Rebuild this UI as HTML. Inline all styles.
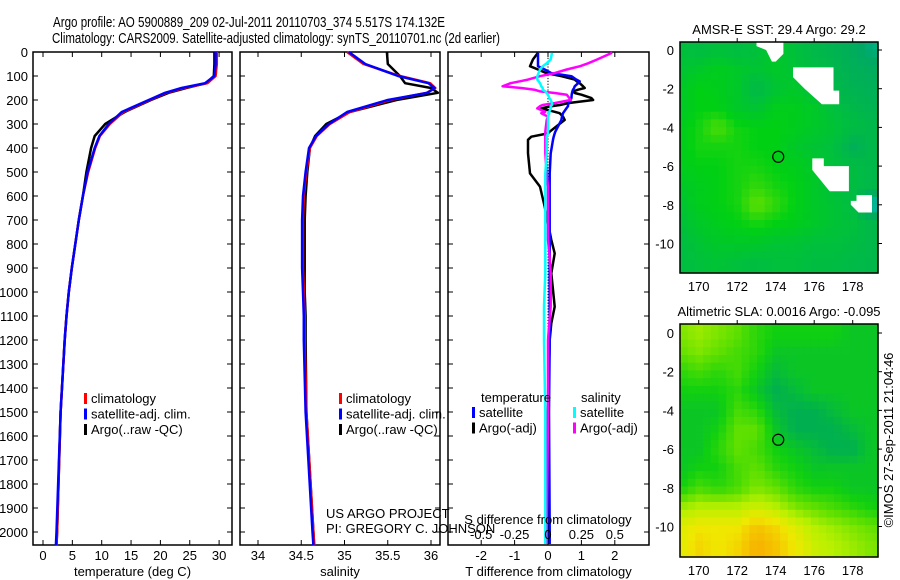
<!DOCTYPE html>
<html><head><meta charset="utf-8">
<style>
html,body{margin:0;padding:0;background:#fff;}
svg{display:block;font-family:"Liberation Sans",sans-serif;}
text{fill:#000;}
</style></head>
<body>
<svg id="chart" width="900" height="580" viewBox="0 0 900 580">
<text x="53" y="27" font-size="15" textLength="392" lengthAdjust="spacingAndGlyphs">Argo profile: AO 5900889_209 02-Jul-2011 20110703_374 5.517S 174.132E</text>
<text x="52" y="43" font-size="15" textLength="448" lengthAdjust="spacingAndGlyphs">Climatology: CARS2009. Satellite-adjusted climatology: synTS_20110701.nc (2d earlier)</text>
<g id="g1"></g>
<g id="g2"></g>
<g id="g3"></g>
<g id="m1"></g>
<g id="m2"></g>
<text transform="translate(893,440) rotate(-90)" font-size="13" text-anchor="middle">©IMOS 27-Sep-2011 21:04:46</text>
</svg>
<script>
// ---- profile data ----
const depths = [0,50,100,130,150,170,200,250,300,350,400,500,600,700,800,900,1000,1100,1200,1500,2000,2055];
const tempClim = [29.6,29.6,29.4,28.0,24.0,21.0,18.2,13.7,11.4,9.7,8.9,7.7,6.8,6.1,5.5,4.9,4.4,4.0,3.7,3.0,2.4,2.3];
const tempSat  = [29.4,29.4,29.2,27.6,23.6,20.8,18.0,13.4,11.2,9.6,8.8,7.6,6.8,6.1,5.5,4.9,4.4,4.0,3.7,3.0,2.3,2.2];
const tempArgo = [29.2,29.2,29.1,27.8,24.4,21.4,18.4,13.9,10.6,8.8,8.2,7.4,6.8,6.1,5.5,4.9,4.4,4.0,3.7,3.0,2.4,2.3];
const salClim = [35.03,35.22,35.64,35.99,36.05,35.95,35.53,35.06,34.83,34.68,34.60,34.56,34.53,34.52,34.52,34.52,34.53,34.54,34.54,34.56,34.64,34.65];
const salSat  = [35.05,35.24,35.62,35.97,36.04,35.96,35.50,35.03,34.82,34.67,34.59,34.55,34.52,34.51,34.51,34.51,34.52,34.53,34.53,34.55,34.63,34.64];
const salArgo = [35.49,35.50,35.64,35.70,36.00,36.08,35.60,35.06,34.79,34.66,34.60,34.57,34.55,34.54,34.54,34.54,34.54,34.55,34.55,34.56,34.64,34.65];
const diffDepths = [3,31,47,59,73,88,101,115,122,130,143,150,157,164,171,178,192,200,213,221,226,235,249,255,269,283,332,339,353,366,408,422,506,561,644,783,839,922,1061,1130,1200,1500,2000,2050];
const dTsat  = [-0.3,-0.3,-0.3,-0.3,-0.1,0.1,0.7,0.85,0.95,0.9,0.8,0.78,0.75,0.73,0.72,0.71,0.7,0.68,0.62,0.6,0.6,0.55,0.48,0.45,0.42,0.4,0.22,0.2,0.17,0.15,0.1,0.08,0.05,0.05,0.05,0.05,0.05,0.05,0.05,0.05,0.05,0.03,0.05,0.05];
const dTargo = [-0.3,-0.45,-0.5,-0.54,-0.3,-0.05,0.4,0.8,0.86,0.95,1.05,1.1,0.9,0.75,0.8,1.0,1.3,1.35,0.6,0.36,0.1,-0.2,0.2,0.35,0.45,0.5,0.05,0.0,-0.5,-0.6,-0.6,-0.6,-0.54,-0.24,-0.1,0.1,0.2,0.1,0.2,0.1,0.05,0.0,0.0,0.0];
const dSsat  = [0.03,0.02,-0.01,-0.04,-0.06,-0.07,-0.08,-0.08,-0.07,-0.06,-0.05,-0.04,-0.04,-0.02,-0.01,0.0,0.01,0.02,0.03,0.03,0.02,0.02,0.01,0.01,0.0,0.0,0.0,0.0,-0.01,-0.01,-0.01,-0.01,-0.02,-0.02,-0.02,-0.02,-0.02,-0.02,-0.03,-0.03,-0.03,-0.02,-0.02,-0.02];
const dSargo = [0.48,0.37,0.3,0.24,0.14,0.05,-0.06,-0.15,-0.21,-0.28,-0.34,-0.2,-0.1,-0.06,0.05,0.14,0.16,0.17,0.05,-0.04,-0.06,-0.08,-0.02,-0.05,0.0,-0.01,-0.02,-0.02,-0.02,-0.02,-0.02,-0.02,-0.01,0.0,0.0,0.0,0.01,0.02,0.02,0.01,0.0,0.0,-0.01,-0.01];
const depthTicks = [0,100,200,300,400,500,600,700,800,900,1000,1100,1200,1300,1400,1500,1600,1700,1800,1900,2000];
const tempTicks = [0,5,10,15,20,25,30];
const salTicks = [34,34.5,35,35.5,36];
const tDiffTicks = [-2,-1,0,1,2];
const sDiffTicks = [-0.5,-0.25,0,0.25,0.5];
// ---- map data (1-degree grid, lon 169..179, lat 0..-11) ----
const mapLons = [169,170,171,172,173,174,175,176,177,178,179];
const mapLats = [0,-1,-2,-3,-4,-5,-6,-7,-8,-9,-10,-11];
const sstGrid = [
[0.40,0.38,0.40,0.38,0.40,0.45,0.40,0.35,0.32,0.28,0.22],
[0.42,0.45,0.48,0.45,0.42,0.45,0.42,0.38,0.35,0.30,0.28],
[0.45,0.50,0.48,0.45,0.35,0.42,0.45,0.40,0.35,0.32,0.30],
[0.45,0.50,0.50,0.45,0.42,0.48,0.48,0.45,0.40,0.35,0.32],
[0.48,0.52,0.58,0.52,0.50,0.50,0.48,0.45,0.42,0.38,0.35],
[0.48,0.52,0.52,0.52,0.50,0.50,0.45,0.42,0.40,0.30,0.35],
[0.48,0.50,0.50,0.52,0.52,0.50,0.48,0.45,0.40,0.38,0.35],
[0.45,0.48,0.50,0.52,0.55,0.52,0.50,0.45,0.40,0.38,0.35],
[0.42,0.48,0.50,0.52,0.60,0.55,0.50,0.45,0.42,0.38,0.15],
[0.40,0.45,0.48,0.50,0.52,0.50,0.48,0.45,0.42,0.40,0.35],
[0.38,0.42,0.45,0.45,0.45,0.42,0.42,0.40,0.40,0.38,0.35],
[0.38,0.40,0.42,0.40,0.38,0.40,0.40,0.38,0.38,0.36,0.35]];
const slaGrid = [
[0.55,0.60,0.55,0.50,0.40,0.35,0.35,0.35,0.35,0.30,0.30],
[0.50,0.55,0.50,0.45,0.40,0.30,0.30,0.30,0.30,0.30,0.30],
[0.40,0.45,0.40,0.45,0.35,0.25,0.30,0.30,0.30,0.30,0.30],
[0.35,0.35,0.35,0.40,0.30,0.20,0.25,0.30,0.30,0.30,0.30],
[0.30,0.30,0.30,0.45,0.40,0.25,0.20,0.20,0.25,0.30,0.30],
[0.30,0.30,0.35,0.50,0.50,0.30,0.20,0.20,0.20,0.25,0.30],
[0.30,0.30,0.40,0.50,0.45,0.35,0.30,0.25,0.20,0.20,0.30],
[0.30,0.35,0.35,0.45,0.50,0.40,0.35,0.30,0.30,0.30,0.30],
[0.35,0.45,0.40,0.45,0.55,0.50,0.40,0.35,0.35,0.30,0.30],
[0.60,0.65,0.65,0.65,0.70,0.65,0.55,0.50,0.45,0.40,0.35],
[0.75,0.80,0.80,0.80,0.90,0.85,0.75,0.65,0.60,0.55,0.50],
[0.75,0.85,0.80,0.85,0.95,0.90,0.80,0.70,0.65,0.60,0.55]];
const mapLonTicks = [170,172,174,176,178];
const mapLatTicks = [0,-2,-4,-6,-8,-10];
const argoLon = 174.132, argoLat = -5.517;

const NS='http://www.w3.org/2000/svg';
function mk(parent, tag, attrs){const e=document.createElementNS(NS,tag);for(const k in attrs)e.setAttribute(k,attrs[k]);parent.appendChild(e);return e;}
function txt(parent,x,y,s,size,anchor){const t=mk(parent,'text',{x:x,y:y,'font-size':size,'text-anchor':anchor||'start'});t.textContent=s;return t;}

const TOP=52, BOT=545;
const yD = d => TOP + d*0.24;

function panel(g, x0, x1, xs, ticks, fmt, title){
  const box = mk(g,'rect',{x:x0,y:TOP,width:x1-x0,height:BOT-TOP,fill:'none',stroke:'#000','stroke-width':1.5});
  
  
  depthTicks.forEach(d=>{
    mk(g,'line',{x1:x0,x2:x0+5,y1:yD(d),y2:yD(d),stroke:'#000'});
    mk(g,'line',{x1:x1-5,x2:x1,y1:yD(d),y2:yD(d),stroke:'#000'});
  });
  if(ticks){
    ticks.forEach(v=>{
      const x=xs(v);
      mk(g,'line',{x1:x,x2:x,y1:TOP,y2:TOP+5,stroke:'#000'});
      mk(g,'line',{x1:x,x2:x,y1:BOT-5,y2:BOT,stroke:'#000'});
      const t=txt(g,x,560,fmt(v),13,'middle');
      
      
    });
  }
  if(title){const t=txt(g,(x0+x1)/2,576,title,13,'middle');
    
    }
}
function line(g, xs, vals, ds, color, w, name){
  const pts = vals.map((v,i)=>xs(v).toFixed(1)+','+yD(ds[i]).toFixed(1)).join(' ');
  const p = mk(g,'polyline',{points:pts,fill:'none',stroke:color,'stroke-width':w,'stroke-linejoin':'round'});
  
  
}
function legend(g,x,y,items){
  items.forEach((it,i)=>{
    mk(g,'rect',{x:x,y:y+i*15.5-10,width:3,height:11,fill:it[1]});
    const t=txt(g,x+7,y+i*15.5,it[0],13);
    
    
  });
}

// panel 1 temperature
const g1=document.getElementById('g1');
const xT = v => 43 + v*5.87;
panel(g1,33,232,xT,tempTicks,v=>String(v),'temperature (deg C)');
depthTicks.forEach(d=>{const t=txt(g1,28,yD(d)+5,String(d),13,'end');
  
  });
line(g1,xT,tempArgo,depths,'#000',2.5,'temp-argo-line');
line(g1,xT,tempClim,depths,'#f00',2.5,'temp-climatology-line');
line(g1,xT,tempSat,depths,'#00f',2.5,'temp-satellite-line');
legend(g1,84,403,[['climatology','#f00'],['satellite-adj. clim.','#00f'],['Argo(..raw -QC)','#000']]);

// panel 2 salinity
const g2=document.getElementById('g2');
const xS = v => 258 + (v-34)*86.5;
panel(g2,240,440,xS,salTicks,v=>String(v),'salinity');
line(g2,xS,salArgo,depths,'#000',2.5,'sal-argo-line');
line(g2,xS,salClim,depths,'#f00',2.5,'sal-climatology-line');
line(g2,xS,salSat,depths,'#00f',2.5,'sal-satellite-line');
legend(g2,339,403,[['climatology','#f00'],['satellite-adj. clim.','#00f'],['Argo(..raw -QC)','#000']]);

// panel 3 differences
const g3=document.getElementById('g3');
const xdT = v => 548 + v*33.4;
const xdS = v => 548 + v*133.6;
panel(g3,448,649,xdT,tDiffTicks,v=>String(v),'T difference from climatology');
for(let d=0; d<2050; d+=12){mk(g3,'rect',{x:547.5,y:yD(d),width:1,height:1.2,fill:'#000'});}
line(g3,xdT,dTargo,diffDepths,'#000',2.5,'tdiff-argo-line');
line(g3,xdT,dTsat,diffDepths,'#00f',2.5,'tdiff-satellite-line');
line(g3,xdS,dSargo,diffDepths,'#f0f',2.5,'sdiff-argo-line');
line(g3,xdS,dSsat,diffDepths,'#0ff',2.5,'sdiff-satellite-line');
const pj=txt(g2,326,518,'US ARGO PROJECT',13);
const pi=txt(g3,326,533,'PI: GREGORY C. JOHNSON',13);
sDiffTicks.forEach(v=>{const t=txt(g3,xdS(v),539,String(v),13,'middle');
  
  });
const st=txt(g3,548,524,'S difference from climatology',13,'middle');


const lt=txt(g3,481,402,'temperature',13);
const ls=txt(g3,581,402,'salinity',13);
legend(g3,472,417,[['satellite','#00f'],['Argo(-adj)','#000']]);
legend(g3,573,417,[['satellite','#0ff'],['Argo(-adj)','#f0f']]);

// maps
function lerpC(a,b,t){return a.map((v,i)=>Math.round(v+(b[i]-v)*t));}
function ramp(stops,v){
  if(v<=stops[0][0])return stops[0][1];
  for(let i=1;i<stops.length;i++){if(v<=stops[i][0]){const t=(v-stops[i-1][0])/(stops[i][0]-stops[i-1][0]);return lerpC(stops[i-1][1],stops[i][1],t);}}
  return stops[stops.length-1][1];
}
const sstStops=[[0.1,[0,200,230]],[0.25,[0,168,100]],[0.4,[0,192,60]],[0.5,[0,208,20]],[0.6,[100,224,0]]];
const slaStops=[[0.2,[0,176,80]],[0.35,[16,208,16]],[0.5,[96,224,0]],[0.65,[184,240,0]],[0.8,[240,232,0]],[0.95,[248,176,0]]];
function bil(grid,lon,lat){
  let fx=Math.max(0,Math.min(10,lon-169)), fy=Math.max(0,Math.min(11,-lat));
  const i0=Math.floor(fx),j0=Math.floor(fy),i1=Math.min(10,i0+1),j1=Math.min(11,j0+1);
  const tx=fx-i0,ty=fy-j0;
  return grid[j0][i0]*(1-tx)*(1-ty)+grid[j0][i1]*tx*(1-ty)+grid[j1][i0]*(1-tx)*ty+grid[j1][i1]*tx*ty;
}
function drawMap(g,top,bot,lat0y,grid,stops,title,masks){
  const x0=680,x1=878;
  const xL = lon => 698.7 + (lon-170)*19.25;
  const yL = lat => lat0y - lat*19.35;
  const lonA=169+(x0-xL(169))/19.25, lonB=lonA+(x1-x0)/19.25;
  const latA=(lat0y-top)/19.35, latB=(lat0y-bot)/19.35;
  const step=0.4;
  for(let la=latA; la>latB; la-=step){
    for(let lo=lonA; lo<lonB; lo+=step){
      const c=ramp(stops,bil(grid,lo+step/2,la-step/2));
      const x=xL(lo),y=yL(la);
      const r=mk(g,'rect',{x:x.toFixed(1),y:y.toFixed(1),width:(Math.min(x1,xL(lo+step))-x+0.6).toFixed(1),height:(Math.min(bot,yL(la-step))-y+0.6).toFixed(1),fill:'rgb('+c.join(',')+')'});
      
      
    }
  }
  (masks||[]).forEach(m=>{
    const p=mk(g,'polygon',{points:m.map(q=>xL(q[0]).toFixed(1)+','+yL(q[1]).toFixed(1)).join(' '),fill:'#fff'});
    
    
  });
  const f=mk(g,'rect',{x:x0,y:top,width:x1-x0,height:bot-top,fill:'none',stroke:'#000','stroke-width':1.5});
  
  
  mapLonTicks.forEach(v=>{const x=xL(v);
    mk(g,'line',{x1:x,x2:x,y1:top-4,y2:top,stroke:'#000'});
    const t=txt(g,x,bot+18,String(v),13,'middle');
    
    });
  mapLatTicks.forEach(v=>{const y=yL(v);
    mk(g,'line',{x1:x1,x2:x1+4,y1:y,y2:y,stroke:'#000'});
    const t=txt(g,x0-6,y+5,String(v),13,'end');
    
    });
  const c=mk(g,'circle',{cx:xL(argoLon),cy:yL(argoLat),r:5.5,fill:'none',stroke:'#000','stroke-width':1.2});
  
  
  const tt=txt(g,(x0+x1)/2,top-8,title,13,'middle');
  
  
}
drawMap(document.getElementById('m1'),42,273,50,sstGrid,sstStops,'AMSR-E SST: 29.4  Argo: 29.2',[
  [[173.0,0.45],[174.4,0.45],[174.4,-0.2],[174.0,-0.6],[173.8,-0.6],[173.5,0.0],[173.0,0.2]],
  [[174.9,-0.9],[177.0,-0.9],[177.0,-2.1],[177.3,-2.1],[177.3,-2.8],[176.4,-2.8],[175.5,-2.0],[174.9,-1.4]],
  [[175.9,-5.6],[176.5,-5.6],[176.5,-6.0],[177.8,-6.0],[177.8,-7.3],[176.8,-7.3],[175.9,-6.2]],
  [[177.9,-7.8],[178.2,-7.8],[178.2,-7.5],[179.0,-7.5],[179.0,-8.4],[178.3,-8.4],[177.9,-8.0]]]);
drawMap(document.getElementById('m2'),324,557,333,slaGrid,slaStops,'Altimetric SLA: 0.0016  Argo: -0.095',[]);
</script>
</body></html>
